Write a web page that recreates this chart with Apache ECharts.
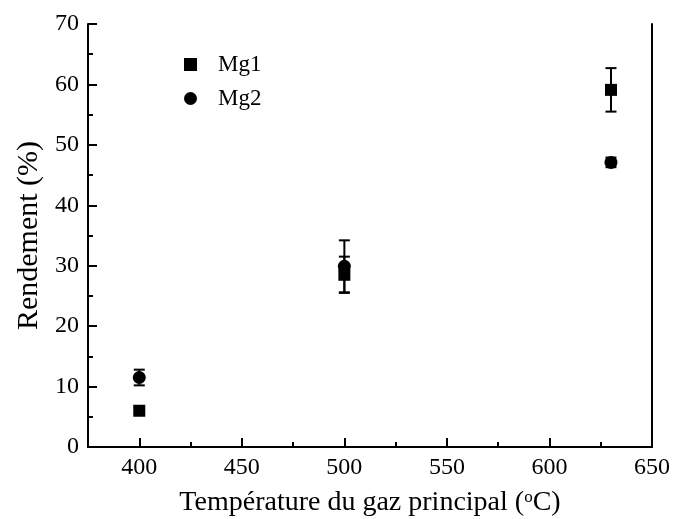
<!DOCTYPE html>
<html>
<head>
<meta charset="utf-8">
<script src="https://cdn.jsdelivr.net/npm/echarts@6/dist/echarts.min.js"></script>
<style>
    html, body { margin: 0; padding: 0; background: #fff; }
    #chart { width: 673px; height: 519px; }
</style>
</head>
<body>
<div id="chart"></div>
<script>
const temperatures = [400, 500, 630]
const mg1Values = [6.0, 28.5, 59.1]
const mg1Errors = [0.5, 3.0, 3.6]
const mg2Values = [11.5, 29.9, 47.1]
const mg2Errors = [1.3, 4.3, 0.8]

const xMajorTicks = [400, 450, 500, 550, 600, 650]
const xMinorTicks = [425, 475, 525, 575, 625]
const xTickLabels = [400, 450, 500, 550, 600, 650]

const font = 'Liberation Serif'
const black = '#000'

let points = (values) => temperatures.map((t, i) => [t, values[i]])
let bars = (values, errors) => temperatures.map((t, i) => [t, values[i] - errors[i], values[i] + errors[i]])

let errorBar = (params, api) => {
    let x = api.value(0)
    let lo = api.coord([x, api.value(1)])
    let hi = api.coord([x, api.value(2)])
    let cap = 5.5
    let style = { stroke: black, lineWidth: 2 }
    return {
        type: 'group',
        children: [
            { type: 'line', shape: { x1: lo[0], y1: lo[1], x2: hi[0], y2: hi[1] }, style },
            { type: 'line', shape: { x1: lo[0] - cap, y1: lo[1], x2: lo[0] + cap, y2: lo[1] }, style },
            { type: 'line', shape: { x1: hi[0] - cap, y1: hi[1], x2: hi[0] + cap, y2: hi[1] }, style }
        ]
    }
}

let chart = echarts.init(document.getElementById('chart'))

let lineStyle = { color: black, width: 2 }

chart.setOption({
    animation: false,
    backgroundColor: '#fff',
    grid: { left: 88, right: 21, top: 24, bottom: 72, outerBoundsMode: 'none' },
    legend: {
        data: ['Mg1', 'Mg2'],
        orient: 'vertical',
        left: 179,
        top: 48,
        itemWidth: 13,
        itemHeight: 13,
        itemGap: 11,
        textStyle: { fontFamily: font, fontSize: 23, color: black, padding: [0, 0, 0, 16] }
    },
    xAxis: [
        {
            type: 'value',
            position: 'bottom',
            min: 375,
            max: 650,
            axisLine: { show: true, onZero: false, lineStyle },
            axisTick: { show: true, inside: true, length: 9, customValues: xMajorTicks, lineStyle },
            axisLabel: {
                customValues: xTickLabels,
                fontFamily: font, fontSize: 24, color: black, margin: 9
            },
            splitLine: { show: false },
            name: 'Température du gaz principal ({sup|o}C)',
            nameLocation: 'middle',
            nameGap: 42,
            nameTextStyle: {
                fontFamily: font, fontSize: 28, color: black,
                rich: { sup: { fontFamily: font, fontSize: 17, color: black, padding: [0, 0, 11, 0] } }
            }
        },
        {
            type: 'value',
            position: 'bottom',
            min: 375,
            max: 650,
            axisLine: { show: false },
            axisTick: { show: true, inside: true, length: 5, customValues: xMinorTicks, lineStyle },
            axisLabel: { show: false },
            splitLine: { show: false }
        },
        {
            type: 'value',
            position: 'top',
            min: 375,
            max: 650,
            axisLine: { show: true, lineStyle },
            axisTick: { show: false },
            axisLabel: { show: false },
            splitLine: { show: false }
        }
    ],
    yAxis: [
        {
            type: 'value',
            position: 'left',
            min: 0,
            max: 70,
            interval: 10,
            axisLine: { show: true, onZero: false, lineStyle },
            axisTick: { show: true, inside: true, length: 9, lineStyle },
            minorTick: { show: true, splitNumber: 2, length: 5, lineStyle },
            axisLabel: { fontFamily: font, fontSize: 24, color: black, margin: 9 },
            splitLine: { show: false },
            name: 'Rendement (%)',
            nameLocation: 'middle',
            nameGap: 44,
            nameTextStyle: { fontFamily: font, fontSize: 30, color: black }
        },
        {
            type: 'value',
            position: 'right',
            min: 0,
            max: 70,
            axisLine: { show: true, lineStyle },
            axisTick: { show: false },
            axisLabel: { show: false },
            splitLine: { show: false }
        }
    ],
    series: [
        {
            type: 'custom',
            renderItem: errorBar,
            data: bars(mg1Values, mg1Errors),
            encode: { x: 0, y: [1, 2] },
            z: 1
        },
        {
            type: 'custom',
            renderItem: errorBar,
            data: bars(mg2Values, mg2Errors),
            encode: { x: 0, y: [1, 2] },
            z: 1
        },
        {
            name: 'Mg1',
            type: 'scatter',
            symbol: 'rect',
            symbolSize: 12,
            itemStyle: { color: black, opacity: 1 },
            data: points(mg1Values),
            z: 3
        },
        {
            name: 'Mg2',
            type: 'scatter',
            symbol: 'circle',
            symbolSize: 13,
            itemStyle: { color: black, opacity: 1 },
            data: points(mg2Values),
            z: 2
        }
    ]
})

window.addEventListener('resize', () => chart.resize(), false)
</script>
</body>
</html>
